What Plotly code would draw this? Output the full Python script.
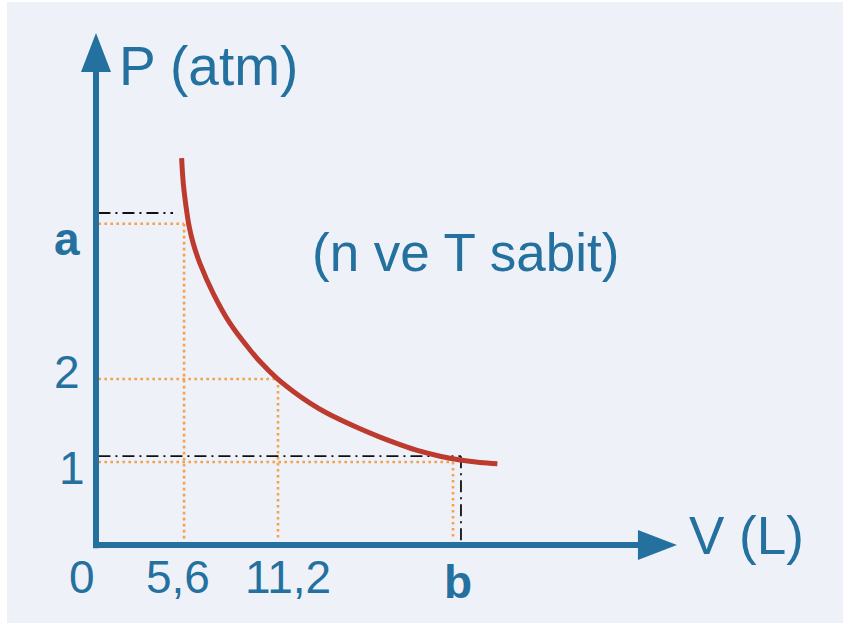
import plotly.graph_objects as go

# ---- data ----
curve_v = [5.27, 5.37, 5.54, 5.74, 5.99, 6.40, 7.22, 8.25, 9.48, 10.09, 11.12, 12.14, 13.17,
           14.20, 16.25, 17.48, 18.71, 19.94, 21.17, 22.40, 23.63, 24.70]
curve_p = [4.66, 4.36, 4.08, 3.83, 3.63, 3.39, 3.03, 2.67, 2.35, 2.21, 2.01, 1.85, 1.71,
           1.59, 1.40, 1.30, 1.21, 1.13, 1.07, 1.025, 0.995, 0.98]

# orange dotted guides: (level P, end V) horizontals and (V, top P) verticals
guide_h_p = [3.87, 2.0, 1.0]
guide_h_v = [5.42, 11.1, 21.97]
guide_v_v = [5.42, 11.2, 21.97]
guide_v_p = [3.87, 2.0, 1.0]

# black dash-dot guides
ref_h_p = [4.0, 1.07]
ref_h_v = [4.74, 22.46]
ref_v_v = [22.46]
ref_v_p = [1.07]

x_tick_labels = ["0", "5,6", "11,2", "b"]
x_tick_pos = [-0.86, 5.05, 11.82, 22.28]
y_tick_labels = ["1", "2", "a"]
y_tick_pos = [0.93, 2.08, 3.69]

BG = "#eef2f8"
BLUE = "#24709f"
ORANGE = "#f5a04a"
RED = "#bd3a2f"
FONT = "Liberation Sans"

fig = go.Figure()

# orange dotted guides
for p, v in zip(guide_h_p, guide_h_v):
    fig.add_trace(go.Scatter(x=[0.15, v], y=[p, p], mode="lines",
                             line=dict(color=ORANGE, width=2.6, dash="2.6px,3.4px"),
                             hoverinfo="skip", showlegend=False))
for v, p in zip(guide_v_v, guide_v_p):
    fig.add_trace(go.Scatter(x=[v, v], y=[p, 0.06], mode="lines",
                             line=dict(color=ORANGE, width=2.6, dash="2.6px,3.4px"),
                             hoverinfo="skip", showlegend=False))
# black dash-dot guides
for p, v in zip(ref_h_p, ref_h_v):
    fig.add_trace(go.Scatter(x=[0.15, v], y=[p, p], mode="lines",
                             line=dict(color="#111111", width=1.8, dash="12px,5px,2px,5px"),
                             hoverinfo="skip", showlegend=False))
for v, p in zip(ref_v_v, ref_v_p):
    fig.add_trace(go.Scatter(x=[v, v], y=[p, 0.0], mode="lines",
                             line=dict(color="#111111", width=1.8, dash="12px,5px,2px,5px"),
                             hoverinfo="skip", showlegend=False))

# isotherm curve
fig.add_trace(go.Scatter(x=curve_v, y=curve_p, mode="lines",
                         line=dict(color=RED, width=5, shape="spline", smoothing=1.0),
                         hoverinfo="skip", showlegend=False))

shapes = [
    # white strips at left / top edge of the picture
    dict(type="rect", xref="paper", yref="paper", x0=-0.02, x1=-0.0037, y0=-0.05, y1=1.05,
         fillcolor="white", line=dict(width=0), layer="below"),
    dict(type="rect", xref="paper", yref="paper", x0=-0.02, x1=1.05, y0=1.0133, y1=1.05,
         fillcolor="white", line=dict(width=0), layer="below"),
    # axes
    dict(type="line", xref="x", yref="y", x0=0, x1=0, y0=-0.04, y1=5.72,
         line=dict(color=BLUE, width=6)),
    dict(type="line", xref="x", yref="y", x0=-0.18, x1=33.5, y0=0, y1=0,
         line=dict(color=BLUE, width=6)),
    # arrow heads (pixel-sized)
    dict(type="path", xref="x", yref="y", xsizemode="pixel", ysizemode="pixel",
         xanchor=0, yanchor=6.169, path="M0,0 L-15,-39 L15,-39 Z",
         fillcolor=BLUE, line=dict(width=0)),
    dict(type="path", xref="x", yref="y", xsizemode="pixel", ysizemode="pixel",
         xanchor=35.75, yanchor=0, path="M0,0 L-39,15 L-39,-15 Z",
         fillcolor=BLUE, line=dict(width=0)),
]

annotations = [
    dict(x=1.30, y=5.77, text="P (atm)", xanchor="left", yanchor="middle",
         font=dict(family=FONT, size=55, color=BLUE)),
    dict(x=36.37, y=0.11, text="V (L)", xanchor="left", yanchor="middle",
         font=dict(family=FONT, size=53, color=BLUE)),
    dict(x=13.15, y=3.53, text="(n ve T sabit)", xanchor="left", yanchor="middle",
         font=dict(family=FONT, size=53, color=BLUE)),
]
for lab, v in zip(x_tick_labels, x_tick_pos):
    bold = lab.isalpha()
    annotations.append(dict(x=v, y=-0.38 if not bold else -0.44,
                            text=f"<b>{lab}</b>" if bold else lab,
                            xanchor="center", yanchor="middle",
                            font=dict(family=FONT, size=46, color=BLUE)))
y_label_x = [-1.48, -1.78, -1.78]
for lab, p, xv in zip(y_tick_labels, y_tick_pos, y_label_x):
    bold = lab.isalpha()
    annotations.append(dict(x=xv, y=p, text=f"<b>{lab}</b>" if bold else lab,
                            xanchor="center", yanchor="middle",
                            font=dict(family=FONT, size=46, color=BLUE)))
for a in annotations:
    a.update(xref="x", yref="y", showarrow=False)

fig.update_layout(
    width=843, height=623,
    margin=dict(l=10, r=10, t=10, b=10),
    paper_bgcolor=BG, plot_bgcolor="rgba(0,0,0,0)",
    xaxis=dict(range=[-5.292, 45.354], visible=False, fixedrange=True),
    yaxis=dict(range=[-0.8193, 6.4458], visible=False, fixedrange=True),
    shapes=shapes, annotations=annotations,
    showlegend=False,
)

fig.write_html("out.html", config={"displayModeBar": False},
               post_script="document.body.style.margin='0';document.body.style.overflow='hidden';")
